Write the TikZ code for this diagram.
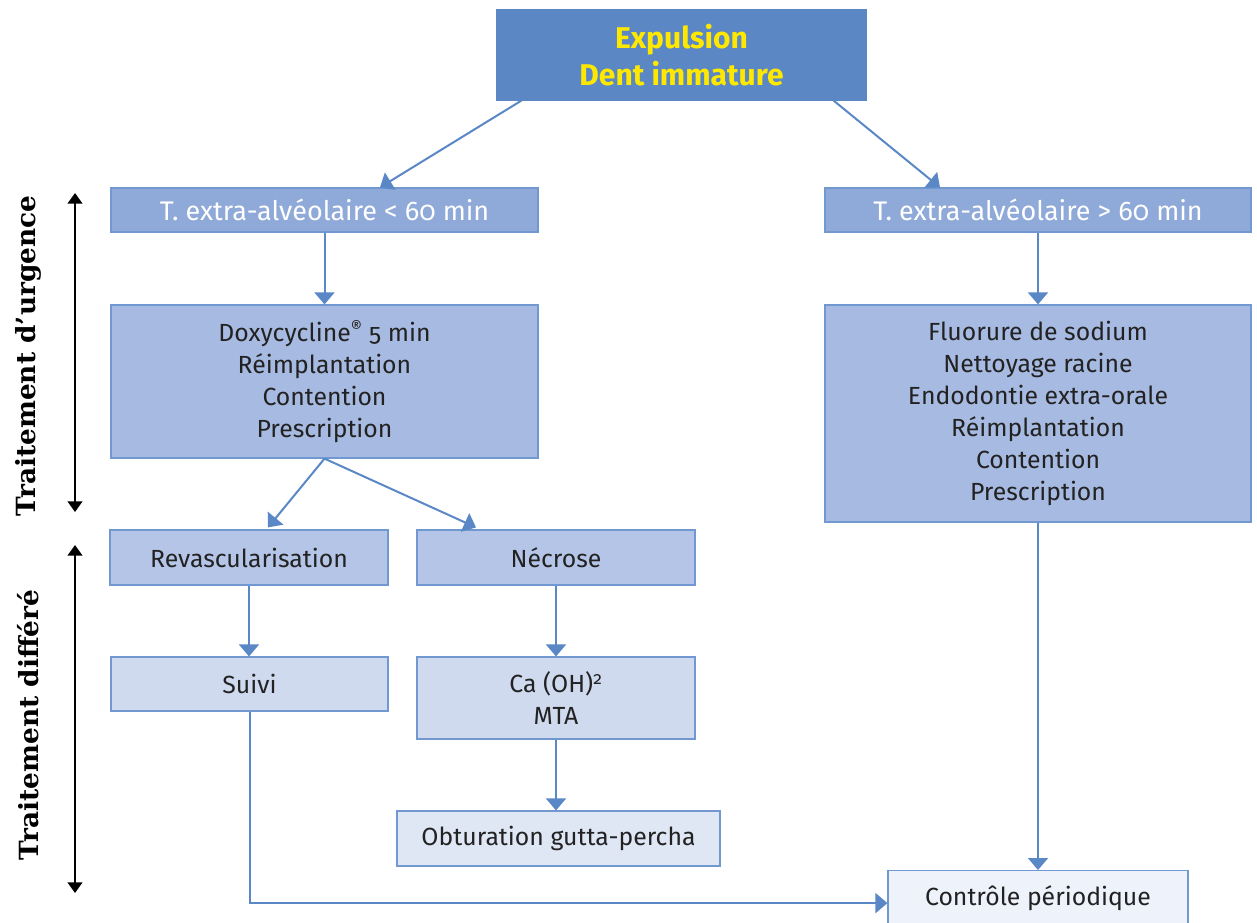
\documentclass[tikz,border=0pt]{standalone}
\usepackage{fontspec}
\setmainfont[Numbers=OldStyle]{Fira Sans}
\newfontfamily\sidefont{DejaVu Serif}
\usetikzlibrary{arrows.meta,calc,positioning}

\definecolor{topfill}{HTML}{5B87C5}
\definecolor{fillA}{HTML}{8FA9D8}
\definecolor{fillB}{HTML}{A7BAE1}
\definecolor{fillC}{HTML}{B5C5E7}
\definecolor{fillD}{HTML}{D0DAEF}
\definecolor{fillE}{HTML}{DFE6F4}
\definecolor{fillF}{HTML}{EEF2FA}
\definecolor{boxline}{HTML}{7198D0}
\definecolor{flow}{HTML}{5A87C6}
\definecolor{titleyellow}{HTML}{FFE800}
\definecolor{ink}{HTML}{222222}

\tikzset{
  box/.style={draw=boxline, line width=0.9pt, rectangle, align=center,
    inner sep=0pt, font=\fontsize{18.6}{24}\selectfont, text=ink},
  headbox/.style={box, fill=fillA, text=white, font=\fontsize{20.2}{24}\selectfont},
  flowarrow/.style={draw=flow, line width=1.5pt,
    -{Triangle[width=15pt,length=9pt]}},
  phase/.style={draw=black, line width=1.5pt,
    {Triangle[width=11pt,length=8pt]}-{Triangle[width=11pt,length=8pt]}},
  phaselabel/.style={rotate=90, font=\sidefont\bfseries\fontsize{19.8}{22}\selectfont}
}

\begin{document}
\begin{tikzpicture}[x=0.75pt, y=-0.75pt]
  \clip (0,0) rectangle (1257,922);
  \useasboundingbox (0,0) rectangle (1257,922);

  % boxes
  \node[box, fill=topfill, draw=topfill, text=titleyellow, font=\bfseries\fontsize{22.5}{27.5}\selectfont,
    minimum width=276.75pt, minimum height=67.5pt] (expulsion) at (681.5,55) {Expulsion\\Dent immature};
  \node[headbox, minimum width=320.25pt, minimum height=33pt] (court) at (324.5,210) {T. extra-alvéolaire < 60 min};
  \node[headbox, minimum width=319.5pt, minimum height=33pt] (long) at (1038,210) {T. extra-alvéolaire > 60 min};
  \node[box, fill=fillB, minimum width=320.25pt, minimum height=114.75pt] (soinscourt) at (324.5,381.5)
    {Doxycycline\textsuperscript{®} 5 min\\Réimplantation\\Contention\\Prescription};
  \node[box, fill=fillB, minimum width=319.5pt, minimum height=162.75pt] (soinslong) at (1038,413.5)
    {Fluorure de sodium\\Nettoyage racine\\Endodontie extra-orale\\Réimplantation\\Contention\\Prescription};
  \node[box, fill=fillC, minimum width=208.5pt, minimum height=41.25pt] (revasc) at (249,557.5) {Revascularisation};
  \node[box, fill=fillC, minimum width=208.5pt, minimum height=41.25pt] (necrose) at (556,557.5) {Nécrose};
  \node[box, fill=fillD, minimum width=207.75pt, minimum height=40.5pt] (suivi) at (249.5,684) {Suivi};
  \node[box, fill=fillD, minimum width=208.5pt, minimum height=61.5pt] (caoh) at (556,698) {Ca (OH)\textsuperscript{2}\\MTA};
  \node[box, fill=fillE, minimum width=242.25pt, minimum height=41.25pt] (obturation) at (558.5,838.5) {Obturation gutta-percha};
  \node[box, fill=fillF, minimum width=225pt, minimum height=41.25pt, anchor=north] (controle) at (1038,870) {\raisebox{4pt}{Contrôle périodique}};

  % connectors
  \draw[flowarrow] ($(expulsion.south west)+(25,0)$) -- ($(court.north)+(55.5,0)$);
  \draw[flowarrow] ($(expulsion.south east)+(-33,0)$) -- ($(long.north)+(-98,0)$);
  \draw[flowarrow] (court) -- (soinscourt);
  \draw[flowarrow] (long) -- (soinslong);
  \draw[flowarrow] (soinscourt.south) -- ($(revasc.north)+(19,-2)$);
  \draw[flowarrow] (soinscourt.south) -- ($(necrose.north)+(-80,-2)$);
  \draw[flowarrow] (revasc) -- (revasc |- suivi.north);
  \draw[flowarrow] (necrose) -- (caoh);
  \draw[flowarrow] (caoh) -- (caoh |- obturation.north);
  \draw[flowarrow] (soinslong) -- (controle);
  \draw[flowarrow] (suivi.south) |- ($(controle.west)+(0,5)$);

  % phases
  \coordinate (urg1) at (75,193);
  \coordinate (urg2) at (75,512);
  \coordinate (dif1) at (75,545);
  \coordinate (dif2) at (75,893);
  \draw[phase] (urg1) -- (urg2);
  \draw[phase] (dif1) -- (dif2);
  \node[phaselabel] (urgence) at (28,356) {Traitement d’urgence};
  \node[phaselabel] (differe) at (28,725) {Traitement différé};
\end{tikzpicture}
\end{document}
